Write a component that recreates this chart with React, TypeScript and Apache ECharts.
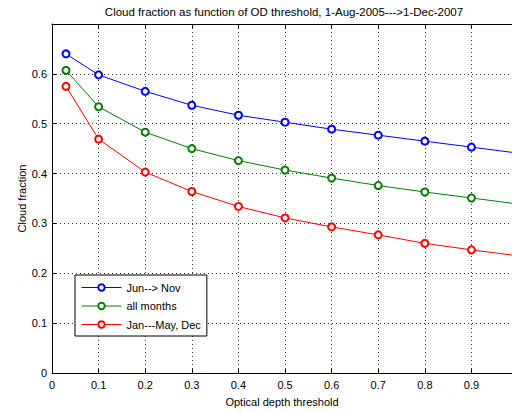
import React, { useEffect, useRef } from "react";
import * as echarts from "echarts";

const titleText = "Cloud fraction as function of OD threshold, 1-Aug-2005--->1-Dec-2007";
const xName = "Optical depth threshold";
const yName = "Cloud fraction";
const thresholds = [0.03, 0.1, 0.2, 0.3, 0.4, 0.5, 0.6, 0.7, 0.8, 0.9, 1.0];
const seriesNames = ["Jun--> Nov", "all months", "Jan---May, Dec"];
const junNov = [0.64, 0.598, 0.565, 0.537, 0.517, 0.503, 0.489, 0.477, 0.465, 0.453, 0.441];
const allMonths = [0.607, 0.534, 0.483, 0.45, 0.426, 0.407, 0.391, 0.376, 0.363, 0.351, 0.339];
const janMayDec = [0.575, 0.469, 0.403, 0.364, 0.334, 0.311, 0.293, 0.277, 0.26, 0.247, 0.235];
const colors = ["#0000ff", "#008000", "#ff0000"];

const FONT = "'Liberation Sans', Arial, Helvetica, sans-serif";
const X_MAX = 0.987;

export default function App() {
  const ref = useRef<HTMLDivElement>(null);
  useEffect(() => {
    document.body.style.margin = "0";
    const chart = echarts.init(ref.current!, null, { renderer: "svg" });
    const allData = [junNov, allMonths, janMayDec];
    const series = allData.map((vals, i) => ({
      name: seriesNames[i],
      type: "line",
      data: vals.map((v, j) => {
        const item: any = { value: [thresholds[j], v] };
        if (thresholds[j] >= 1) item.symbol = "none";
        return item;
      }),
      symbol: "emptyCircle",
      symbolSize: 7,
      showSymbol: true,
      clip: true,
      color: colors[i],
      lineStyle: { color: colors[i], width: 1 },
      itemStyle: { color: colors[i], borderColor: colors[i], borderWidth: 1 },
      emphasis: { disabled: true },
      z: 3,
    }));
    const gridLine = { show: true, lineStyle: { color: "#333", type: [1, 3], width: 1 } };
    chart.setOption({
      animation: false,
      textStyle: { fontFamily: FONT },
      grid: { left: 52, top: 24, right: 0, bottom: 38, show: true, borderWidth: 0, backgroundColor: "#fff" },
      xAxis: [
        {
          type: "value",
          min: 0,
          max: X_MAX,
          interval: 0.1,
          name: xName,
          nameLocation: "middle",
          nameGap: 23,
          nameMoveOverlap: false,
          nameTextStyle: { color: "#000", fontSize: 11, fontFamily: FONT },
          axisLine: { show: true, lineStyle: { color: "#000" } },
          axisTick: { show: true, inside: true, length: 4, lineStyle: { color: "#000" } },
          axisLabel: { color: "#000", fontSize: 11, margin: 6, fontFamily: FONT, showMaxLabel: false },
          splitLine: gridLine,
        },
        {
          type: "value",
          position: "top",
          min: 0,
          max: X_MAX,
          interval: 0.1,
          axisLine: { show: true, lineStyle: { color: "#000" } },
          axisTick: { show: true, inside: true, length: 4, lineStyle: { color: "#000" } },
          axisLabel: { show: false },
          splitLine: { show: false },
        },
      ],
      yAxis: {
        type: "value",
        min: 0,
        max: 0.7,
        interval: 0.1,
        name: yName,
        nameLocation: "middle",
        nameGap: 25,
        nameMoveOverlap: false,
        nameTextStyle: { color: "#000", fontSize: 11, fontFamily: FONT },
        axisLine: { show: true, lineStyle: { color: "#000" } },
        axisTick: { show: true, inside: true, length: 4, lineStyle: { color: "#000" } },
        axisLabel: { color: "#000", fontSize: 11, margin: 5, fontFamily: FONT, showMaxLabel: false },
        splitLine: gridLine,
      },
      legend: {
        orient: "vertical",
        left: 75,
        top: 275,
        itemWidth: 40,
        itemHeight: 8,
        itemGap: 7.5,
        padding: [7, 6, 6, 6],
        backgroundColor: "#fff",
        borderColor: "#000",
        borderWidth: 1,
        borderRadius: 0,
        lineStyle: { width: 1 },
        itemStyle: { borderWidth: 1 },
        textStyle: { color: "#000", fontSize: 11, fontFamily: FONT },
        data: seriesNames,
        selectedMode: false,
      },
      graphic: [
        {
          type: "text",
          x: 284,
          y: 11.5,
          style: { text: titleText, fill: "#000", font: `11.5px ${FONT}`, textAlign: "center", textVerticalAlign: "middle" },
        },
      ],
      series,
    });
    return () => chart.dispose();
  }, []);
  return <div ref={ref} style={{ width: 512, height: 412 }} />;
}
